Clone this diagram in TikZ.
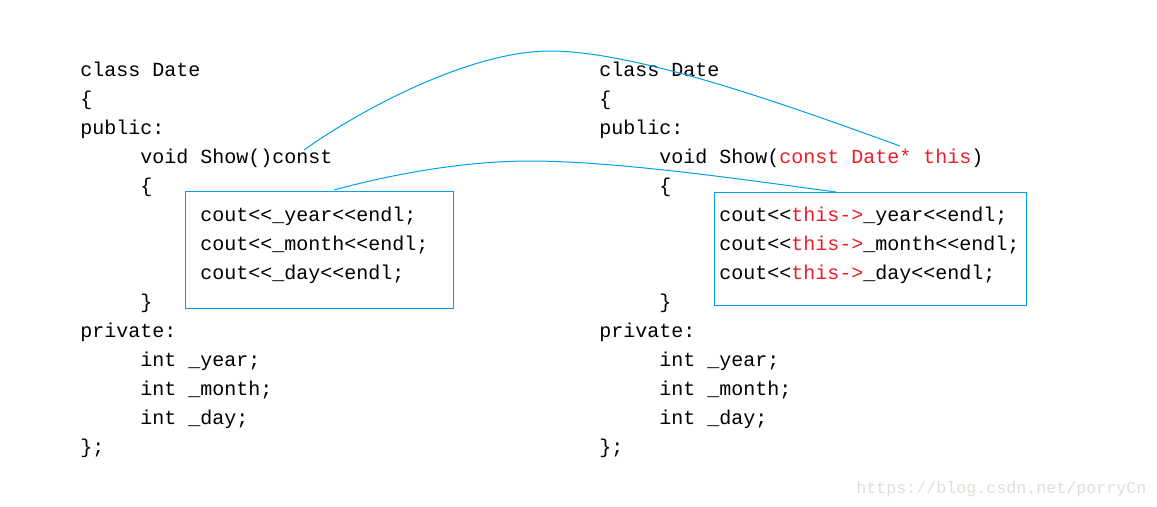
\documentclass[tikz,border=0pt]{standalone}
\usepackage{fontspec}
\setmonofont{Liberation Mono}
\definecolor{linkColor}{RGB}{0,160,230}
\definecolor{keyColor}{RGB}{235,30,40}
\definecolor{markColor}{RGB}{222,222,216}
\tikzset{code/.style={font=\ttfamily\fontsize{15pt}{15pt}\selectfont, anchor=base west, inner sep=0pt}}
\tikzset{codebox/.style={draw=linkColor, line width=0.75pt, anchor=north west, inner sep=0pt}}
\tikzstyle{link} = [draw=linkColor, line width=0.75pt]
\newcommand{\ind}{\hspace*{45pt}}
\newcommand{\kw}[1]{\textcolor{keyColor}{#1}}

\begin{document}
\begin{tikzpicture}[x=0.75pt, y=-0.75pt]
	\useasboundingbox (0,0) rectangle (1157,507);
	% Left: Show() const
	\node (lbox) [codebox, minimum width=201pt, minimum height=87.75pt] at (185,191) {};
	\foreach \txt [count=\i from 0] in {class Date, \{, public:, \ind void Show()const, \ind\{,
		\ind\ind cout<<\_year<<endl;, \ind\ind cout<<\_month<<endl;, \ind\ind cout<<\_day<<endl;,
		\ind\}, private:, \ind int \_year;, \ind int \_month;, \ind int \_day;, \};}
		\node (left\i) [code] at (80,76+29*\i) {\txt};

	% Right: what the compiler makes of it
	\node (rbox) [codebox, minimum width=234pt, minimum height=84.75pt] at (714,192) {};
	\foreach \txt [count=\i from 0] in {class Date, \{, public:, \ind void Show(\kw{const Date* this}), \ind\{,
		\ind\ind cout<<\kw{this->}\_year<<endl;, \ind\ind cout<<\kw{this->}\_month<<endl;, \ind\ind cout<<\kw{this->}\_day<<endl;,
		\ind\}, private:, \ind int \_year;, \ind int \_month;, \ind int \_day;, \};}
		\node (right\i) [code] at (599,76+29*\i) {\txt};

	\node (watermark) [font=\ttfamily\fontsize{12.5pt}{12.5pt}\selectfont, text=markColor, anchor=base west, inner sep=0pt] at (856,493) {https://blog.csdn.net/porryCn};

	% Connectors
	\coordinate (constEnd) at (304,150);
	\coordinate (topArc) at (550,51);
	\coordinate (thisArg) at (900,146);
	\coordinate (bodyFrom) at (334,190);
	\coordinate (lowArc) at (530,161);
	\coordinate (bodyTo) at (836,192);
	\draw [link] (constEnd) .. controls (360,110) and (470,51) .. (topArc) .. controls (640,51) and (800,110) .. (thisArg);
	\draw [link] (bodyFrom) .. controls (400,172) and (470,161) .. (lowArc) .. controls (620,161) and (760,182) .. (bodyTo);
\end{tikzpicture}
\end{document}
